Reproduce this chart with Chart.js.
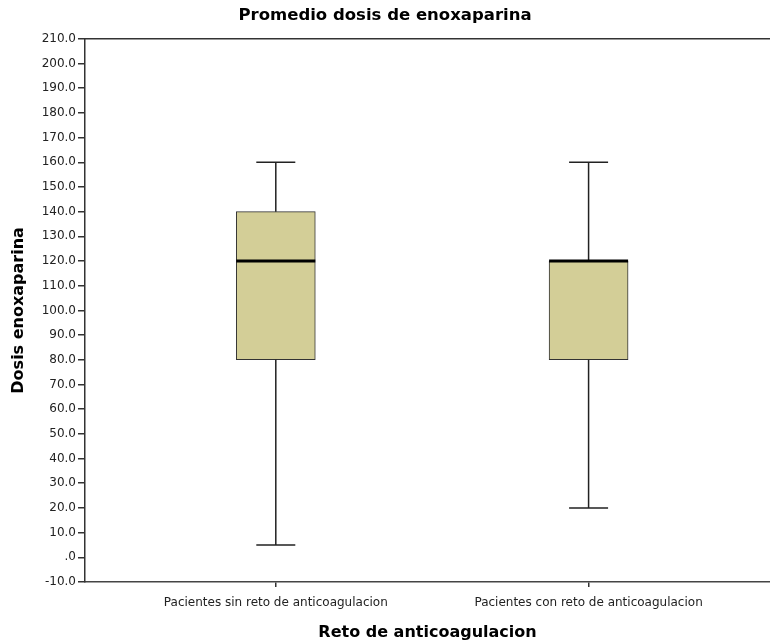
<!DOCTYPE html>
<html>
<head>
<meta charset="utf-8">
<script src="https://cdn.jsdelivr.net/npm/chart.js@4/dist/chart.umd.min.js"></script>
<style>
  body { margin: 0; background: #fff; overflow: hidden; }
</style>
</head>
<body>
<canvas id="myChart" width="770" height="644"></canvas>
<script>
// datos del boxplot
const categories = ['Pacientes sin reto de anticoagulacion', 'Pacientes con reto de anticoagulacion'];
const positions = [1, 2];
const minVals = [5, 20];
const q1Vals = [80, 80];
const medianVals = [120, 120];
const q3Vals = [140, 120];
const maxVals = [160, 160];

const fontFam = '"DejaVu Sans", sans-serif';
const boxColor = 'rgb(211, 206, 151)';

// bigotes, medianas y borde superior
const boxExtras = {
  id: 'boxExtras',
  afterDatasetsDraw(chart) {
    const ctx = chart.ctx;
    const xs = chart.scales.x, ys = chart.scales.y;
    const area = chart.chartArea;
    ctx.save();
    ctx.strokeStyle = '#222';
    positions.forEach((p, i) => {
      const x = xs.getPixelForValue(p);
      const capHalf = 19.5, boxHalf = 39.5;
      ctx.lineWidth = 1.5;
      ctx.beginPath();
      ctx.moveTo(x, ys.getPixelForValue(q3Vals[i]));
      ctx.lineTo(x, ys.getPixelForValue(maxVals[i]));
      ctx.moveTo(x, ys.getPixelForValue(q1Vals[i]));
      ctx.lineTo(x, ys.getPixelForValue(minVals[i]));
      ctx.moveTo(x - capHalf, ys.getPixelForValue(maxVals[i]));
      ctx.lineTo(x + capHalf, ys.getPixelForValue(maxVals[i]));
      ctx.moveTo(x - capHalf, ys.getPixelForValue(minVals[i]));
      ctx.lineTo(x + capHalf, ys.getPixelForValue(minVals[i]));
      ctx.stroke();
      ctx.lineWidth = 3;
      ctx.strokeStyle = '#000';
      ctx.beginPath();
      ctx.moveTo(x - boxHalf, ys.getPixelForValue(medianVals[i]));
      ctx.lineTo(x + boxHalf, ys.getPixelForValue(medianVals[i]));
      ctx.stroke();
      ctx.strokeStyle = '#222';
    });
    ctx.lineWidth = 1.5;
    ctx.strokeStyle = '#333';
    ctx.beginPath();
    ctx.moveTo(area.left, area.top);
    ctx.lineTo(area.right, area.top);
    ctx.stroke();
    ctx.restore();
  }
};

const boxData = positions.map((p, i) => ({ x: p, y: [q1Vals[i], q3Vals[i]] }));

const config = {
  type: 'bar',
  data: {
    datasets: [{
      data: boxData,
      backgroundColor: boxColor,
      borderColor: '#333',
      borderWidth: 1,
      borderSkipped: false,
      barThickness: 79
    }]
  },
  options: {
    responsive: false,
    animation: false,
    layout: { padding: { left: 0, right: 0, top: 0, bottom: 0 } },
    plugins: {
      legend: { display: false },
      tooltip: { enabled: false },
      title: {
        display: true,
        text: 'Promedio dosis de enoxaparina',
        color: '#000',
        font: { family: fontFam, size: 16.5, weight: 'bold' },
        padding: { top: 6, bottom: 13 }
      }
    },
    scales: {
      x: {
        type: 'linear',
        offset: false,
        min: 0.39,
        max: 2.58,
        afterBuildTicks(scale) {
          scale.ticks = positions.map(v => ({ value: v }));
        },
        afterFit(scale) { scale.height = 62; },
        ticks: {
          callback: (v) => categories[positions.indexOf(v)] || '',
          color: '#222',
          font: { family: fontFam, size: 12 },
          padding: 9,
          maxRotation: 0,
          autoSkip: false
        },
        grid: { offset: false, drawOnChartArea: false, tickLength: 5, color: '#333', lineWidth: 1.5 },
        border: { display: true, color: '#444', width: 1.5 },
        title: {
          display: true,
          text: 'Reto de anticoagulacion',
          color: '#000',
          font: { family: fontFam, size: 16, weight: 'bold' },
          padding: { top: 6, bottom: 2 }
        }
      },
      y: {
        min: -10,
        max: 210,
        afterFit(scale) { scale.width = 85; },
        ticks: {
          stepSize: 10,
          callback: (v) => v === 0 ? '.0' : v.toFixed(1),
          color: '#222',
          font: { family: fontFam, size: 12 },
          padding: 2
        },
        grid: { drawOnChartArea: false, tickLength: 7, color: '#333', lineWidth: 1.5 },
        border: { display: true, color: '#333', width: 1.5 },
        title: {
          display: true,
          text: 'Dosis enoxaparina',
          color: '#000',
          font: { family: fontFam, size: 16, weight: 'bold' },
          padding: { top: 9, bottom: 2 }
        }
      }
    }
  },
  plugins: [boxExtras]
};

const myChart = new Chart(document.getElementById('myChart'), config);
</script>
</body>
</html>
